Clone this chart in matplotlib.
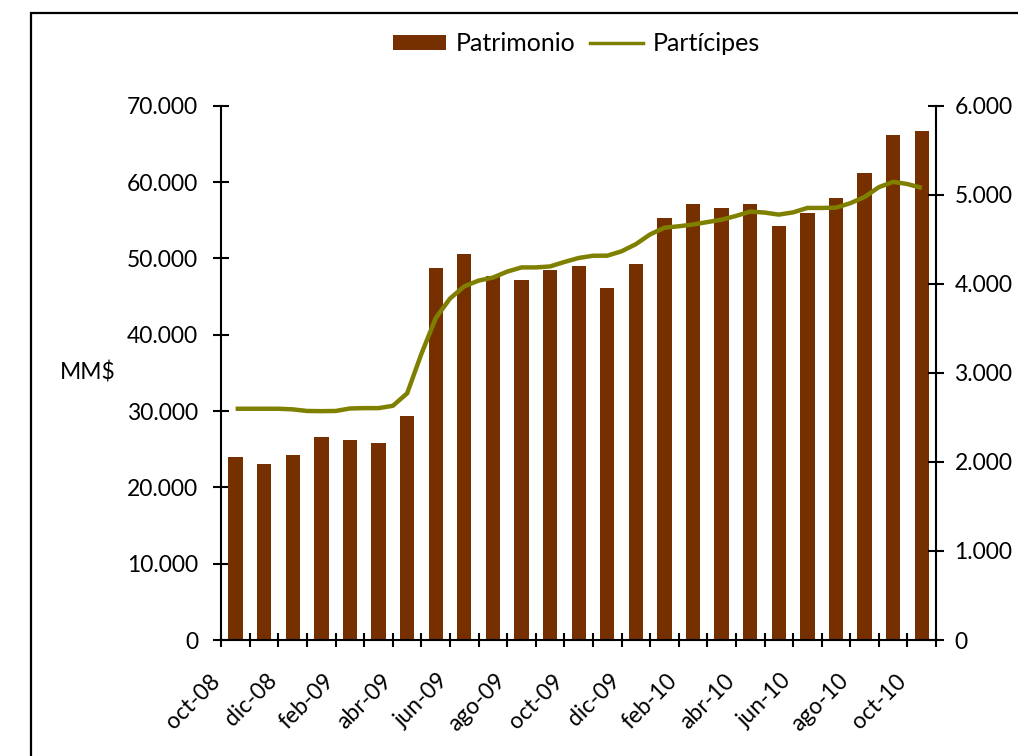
import numpy as np
import matplotlib
matplotlib.use("Agg")
import matplotlib.pyplot as plt
from matplotlib.patches import Rectangle, Patch
from matplotlib.lines import Line2D
from matplotlib.ticker import FuncFormatter
from matplotlib.transforms import ScaledTranslation

plt.rcParams['font.family'] = ['Lato', 'DejaVu Sans']

# meses (oct-08 .. oct-10)
meses = ['oct-08', 'nov-08', 'dic-08', 'ene-09', 'feb-09', 'mar-09', 'abr-09',
         'may-09', 'jun-09', 'jul-09', 'ago-09', 'sep-09', 'oct-09', 'nov-09',
         'dic-09', 'ene-10', 'feb-10', 'mar-10', 'abr-10', 'may-10', 'jun-10',
         'jul-10', 'ago-10', 'sep-10', 'oct-10']

# patrimonio en MM$
patrimonio = [24030, 23110, 24300, 26660, 26140, 25870, 29290, 48720, 50560,
              47650, 47150, 48510, 48990, 46100, 49250, 55290, 57130, 56600,
              57130, 54240, 55940, 57920, 61190, 66190, 66720]

# participes, datos quincenales (miles)
participes = [2597, 2597, 2597, 2597, 2590, 2572, 2570, 2572, 2600, 2604,
              2604, 2630, 2770, 3215, 3615, 3835, 3972, 4036, 4070, 4137,
              4184, 4184, 4195, 4245, 4290, 4315, 4316, 4365, 4445, 4555,
              4630, 4646, 4666, 4693, 4720, 4762, 4811, 4800, 4777, 4802,
              4852, 4852, 4855, 4905, 4975, 5085, 5145, 5120, 5077]

color_bar = '#763000'
color_line = '#808000'
fs = 16.5

fig = plt.figure(figsize=(10.18, 7.56), dpi=100)
ax = fig.add_axes([0.2174, 0.1534, 0.7021, 0.7068])
ax2 = ax.twinx()

x = np.arange(len(meses))
ax.bar(x, patrimonio, width=0.5, color=color_bar, zorder=2)
xq = np.arange(len(participes)) / 2.0
ax2.plot(xq, participes, color=color_line, lw=3.2, solid_joinstyle='round',
         solid_capstyle='butt', zorder=3)

ax.set_xlim(-0.5, len(meses) - 0.5)
ax.set_ylim(0, 70000)
ax2.set_ylim(0, 6000)
ax.set_yticks(np.arange(0, 70001, 10000))
ax2.set_yticks(np.arange(0, 6001, 1000))

fmt = FuncFormatter(lambda v, p: f'{int(v):,}'.replace(',', '.'))
ax.yaxis.set_major_formatter(fmt)
ax2.yaxis.set_major_formatter(fmt)

for a in (ax, ax2):
    a.spines['top'].set_visible(False)
    for s in a.spines.values():
        s.set_linewidth(1.5)

ax.spines['right'].set_visible(False)
ax2.spines['left'].set_visible(False)
ax2.spines['bottom'].set_visible(False)

ax.tick_params(axis='y', direction='inout', length=11.5, width=1.5,
               pad=10.8, labelsize=fs)
ax2.tick_params(axis='y', direction='inout', length=11.5, width=1.5,
                pad=7.5, labelsize=fs)

# etiquetas cada dos meses, marcas entre categorias
ax.set_xticks(x[::2])
ax.set_xticklabels(meses[::2], rotation=45, ha='right', va='center',
                   rotation_mode='anchor')
ax.set_xticks(np.arange(-0.5, len(meses), 1.0), minor=True)
ax.tick_params(axis='x', which='major', length=0, pad=27, labelsize=fs)
ax.tick_params(axis='x', which='minor', direction='inout', length=10,
               width=1.5)
off = ScaledTranslation(-0.19, 0, fig.dpi_scale_trans)
for lab in ax.get_xticklabels():
    lab.set_transform(lab.get_transform() + off)

fig.text(60 / 1018, 1 - 372 / 756, 'MM$', fontsize=fs, ha='left', va='center')

handles = [Patch(facecolor=color_bar, edgecolor='none'),
           Line2D([], [], color=color_line, lw=2.5)]
fig.legend(handles, ['Patrimonio', 'Partícipes'], loc='center',
           bbox_to_anchor=(576.5 / 1018, 1 - 43.7 / 756), ncol=2,
           frameon=False, fontsize=18, handlelength=2.1, handleheight=0.55,
           handletextpad=0.4, columnspacing=0.6, borderpad=0)

# marco del grafico
fig.patches.append(Rectangle((31 / 1018, -0.1), 1.2, 0.1 + 1 - 13.3 / 756,
                             transform=fig.transFigure, fill=False,
                             edgecolor='black', lw=1.6))

fig.savefig('out.png', dpi=100)
